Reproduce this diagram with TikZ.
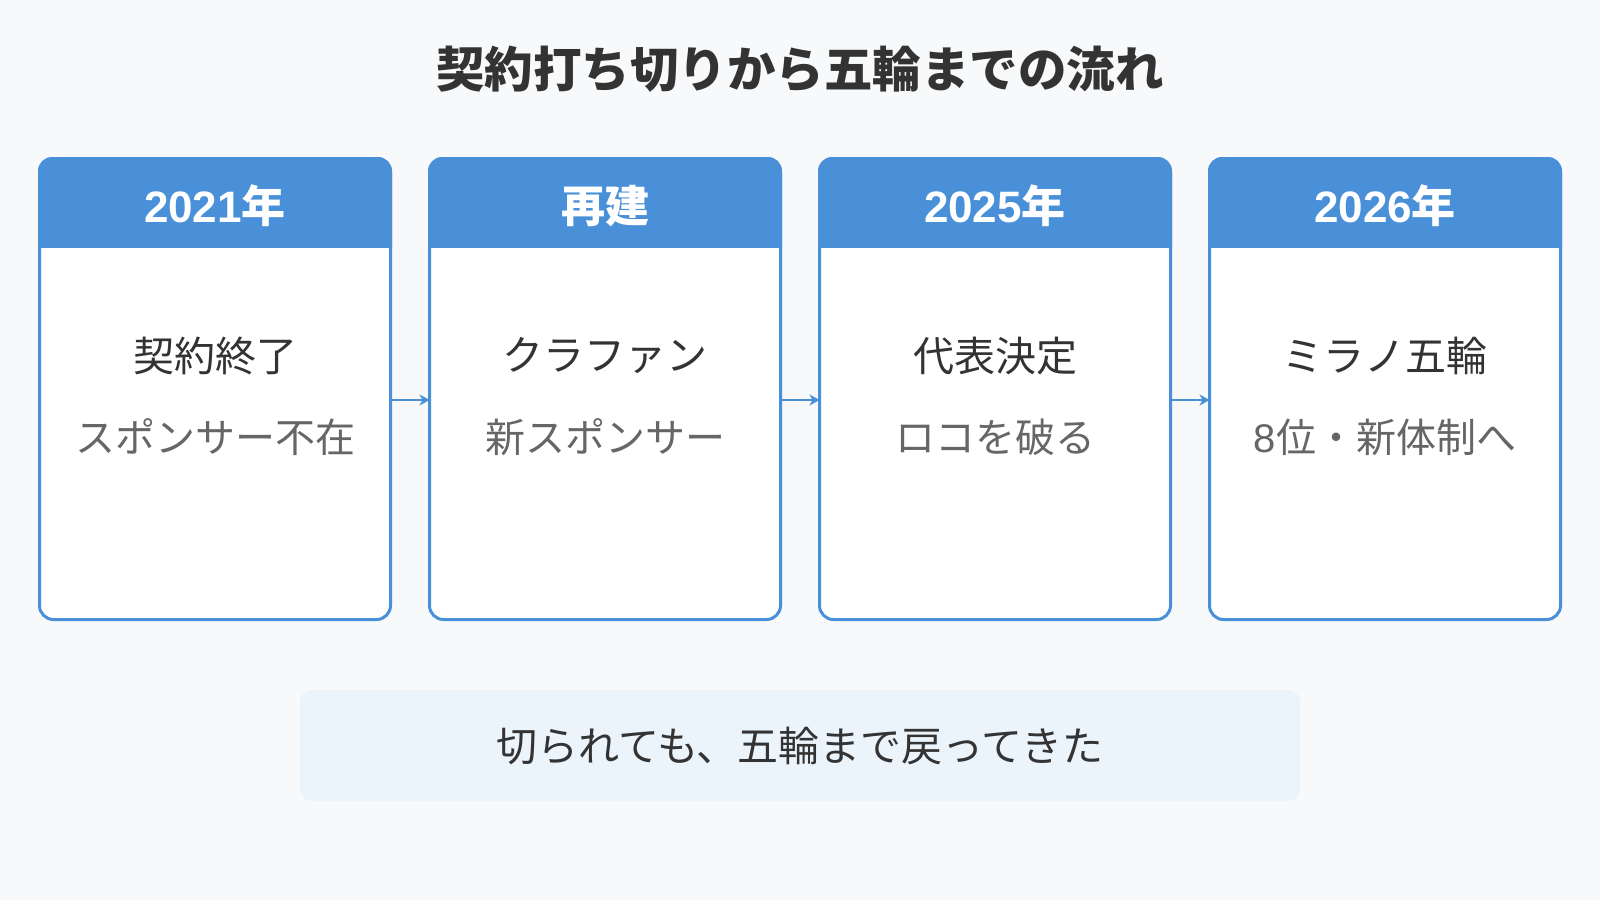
\documentclass[tikz,border=0pt]{standalone}
\usepackage{fontspec}
\setmainfont{Liberation Sans}
\newfontfamily\cjk{Noto Sans CJK JP}
\usetikzlibrary{arrows.meta}
\definecolor{bgc}{HTML}{F7F9FB}
\definecolor{hblue}{HTML}{4A90D9}
\definecolor{notec}{HTML}{EBF3FB}
\definecolor{dark}{HTML}{333333}
\definecolor{grayt}{HTML}{666666}
\begin{document}
\begin{tikzpicture}[x=1pt,y=-1pt,
  card/.style={draw=hblue,line width=3pt,fill=white,rounded corners=14pt,
    minimum width=351pt,minimum height=461pt,inner sep=0pt,outer sep=0pt},
  hdrtext/.style={text=white,font=\fontsize{44}{50}\selectfont\bfseries,inner sep=0pt},
  maintext/.style={text=dark,font=\fontsize{41}{48}\selectfont\cjk,inner sep=0pt},
  subtext/.style={text=grayt,font=\fontsize{40}{46}\selectfont\cjk,inner sep=0pt},
  arr/.style={draw=hblue,line width=2.5pt,-{Stealth[length=10pt,width=11pt,inset=3pt]}},
  titletext/.style={text=dark,font=\fontsize{48.5}{56}\selectfont\cjk\bfseries,inner sep=0pt},
  note/.style={fill=notec,rounded corners=12pt,minimum width=1000pt,minimum height=111pt,
    inner sep=0pt,text=dark,font=\fontsize{41}{48}\selectfont\cjk}]
\useasboundingbox (0,0) rectangle (1600,900);
\fill[bgc] (0,0) rectangle (1600,900);

\node[titletext] (title) at (800,69) {契約打ち切りから五輪までの流れ};

% cards
\node[card] (c1) at (215,389) {};
\node[card] (c2) at (605,389) {};
\node[card] (c3) at (995,389) {};
\node[card] (c4) at (1385,389) {};

\foreach \c in {c1,c2,c3,c4}{
  \begin{scope}
    \clip ([xshift=-3pt,yshift=3pt]\c.north west) rectangle ([xshift=3pt,yshift=-88.5pt]\c.north east);
    \fill[hblue,rounded corners=14pt] ([xshift=-1.5pt,yshift=1.5pt]\c.north west) rectangle ([xshift=1.5pt,yshift=-1.5pt]\c.south east);
  \end{scope}
}

\node[hdrtext] (h1) at (215,206) {2021{\cjk 年}};
\node[hdrtext] (h2) at (605,206) {\cjk 再建};
\node[hdrtext] (h3) at (995,206) {2025{\cjk 年}};
\node[hdrtext] (h4) at (1385,206) {2026{\cjk 年}};

\node[maintext] (m1) at (215,356) {契約終了};
\node[maintext] (m2) at (605,356) {クラファン};
\node[maintext] (m3) at (995,356) {代表決定};
\node[maintext] (m4) at (1385,356) {ミラノ五輪};

\node[subtext] (s1) at (215,437) {スポンサー不在};
\node[subtext] (s2) at (605,437) {新スポンサー};
\node[subtext] (s3) at (995,437) {ロコを破る};
\node[subtext] (s4) at (1385,437) {{\fontspec{Liberation Sans}8}位・新体制へ};

\draw[arr] ([yshift=-11pt]c1.east) -- ([yshift=-11pt]c2.west);
\draw[arr] ([yshift=-11pt]c2.east) -- ([yshift=-11pt]c3.west);
\draw[arr] ([yshift=-11pt]c3.east) -- ([yshift=-11pt]c4.west);

\node[note] (n) at (800,745.5) {切られても、五輪まで戻ってきた};
\end{tikzpicture}
\end{document}
